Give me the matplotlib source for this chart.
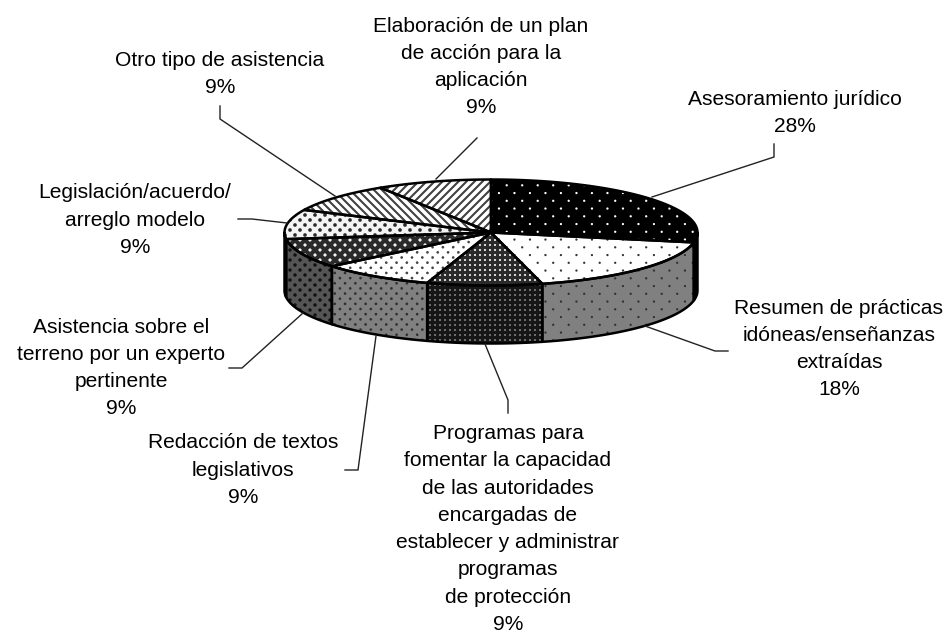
#!/usr/bin/env python
import matplotlib
matplotlib.use('Agg')
import matplotlib.pyplot as plt
from matplotlib.patches import Polygon
import numpy as np

plt.rcParams['font.family'] = ['Liberation Sans', 'DejaVu Sans']

labels = ['Asesoramiento jurídico',
          'Resumen de prácticas\nidóneas/enseñanzas\nextraídas',
          'Programas para\nfomentar la capacidad\nde las autoridades\nencargadas de\nestablecer y administrar\nprogramas\nde protección',
          'Redacción de textos\nlegislativos',
          'Asistencia sobre el\nterreno por un experto\npertinente',
          'Legislación/acuerdo/\narreglo modelo',
          'Otro tipo de asistencia',
          'Elaboración de un plan\nde acción para la\naplicación']
percent = [28, 18, 9, 9, 9, 9, 9, 9]

# where each label block is centred, in pixels
label_x = [795, 839, 508, 243, 121, 135, 220, 481]
label_y = [113, 349, 529, 470, 368, 220, 74, 67]

# leader lines, pie edge -> elbow -> end
leaders = [[(652, 197), (774, 157), (774, 144)],
           [(645, 326), (715, 351), (728, 351)],
           [(485, 344), (508, 400), (508, 413)],
           [(376, 336), (358, 470), (345, 470)],
           [(303, 313), (242, 368), (229, 368)],
           [(287, 223), (252, 219), (238, 219)],
           [(335, 196), (220, 119), (220, 106)],
           [(436, 179), (477, 138)]]

cx, cy = 491, 232.5
rx, ry = 206.5, 53
depth = 58

X, Y = np.meshgrid(np.arange(950) + 0.5, np.arange(634) + 0.5)


def rgb(c):
    return np.array(matplotlib.colors.to_rgb(c))


def dots(bg, fg, h, v, r, stagger=True, x0=0.0, y0=0.0):
    # print style dot screen, soft edged like the scanned original
    row = np.round((Y - y0) / v)
    shift = (row % 2) * h / 2 if stagger else 0
    dx = (X - x0 - shift + h / 2) % h - h / 2
    dy = Y - y0 - row * v
    a = np.clip(r + 0.6 - np.sqrt(dx ** 2 + dy ** 2), 0, 1)[..., None]
    return rgb(bg) * (1 - a) + rgb(fg) * a


def stripes(bg, fg, p, sign):
    w = 0.5 + 0.5 * np.cos(2 * np.pi * (X + sign * Y) / p)
    a = np.clip((w - 0.45) * 2.2, 0, 1)[..., None]
    return rgb(bg) * (1 - a) + rgb(fg) * a


def solid(c):
    return np.ones(X.shape + (3,)) * rgb(c)


def rim(a, b):
    # points on the top ellipse, angles clockwise from 12 o'clock
    t = np.radians(np.linspace(a, b, 80))
    return np.column_stack([cx + rx * np.sin(t), cy - ry * np.cos(t)])


def shape(ax, pts, tex):
    im = ax.imshow(tex, extent=[0, 950, 634, 0], interpolation='nearest', aspect='auto')
    im.set_clip_path(Polygon(pts, closed=True, transform=ax.transData))
    ax.add_patch(Polygon(pts, closed=True, fill=False, edgecolor='black', linewidth=1.8, joinstyle='round'))


top_tex = [dots('black', 'white', 15.5, 7.75, 1.0, x0=506.7, y0=185.3),
           dots('white', '#333333', 15.5, 7.75, 1.0, x0=506.7, y0=185.3),
           dots('#2a2a2a', '#e8e8e8', 5.0, 5.0, 1.0, stagger=False),
           dots('white', '#444444', 10.3, 5.15, 1.2),
           dots('#2a2a2a', '#f0f0f0', 10.0, 5.0, 1.5),
           dots('#f4f4f4', '#2a2a2a', 10.0, 5.0, 1.7),
           stripes('white', '#444444', 8.0, -1),
           stripes('white', '#444444', 8.0, 1)]
side_tex = [solid('black'),
            dots('#808080', '#303030', 15.5, 7.75, 1.0, x0=506.7, y0=185.3),
            dots('#161616', '#777777', 5.0, 5.0, 1.0, stagger=False),
            dots('#808080', '#303030', 10.3, 5.15, 1.2),
            dots('#555555', '#111111', 10.0, 5.0, 1.6),
            solid('black'), solid('black'), solid('black')]

fig = plt.figure(figsize=(9.5, 6.34), dpi=100)
ax = fig.add_axes([0, 0, 1, 1])

edges = np.concatenate([[0], np.cumsum(percent)]) * 3.6

for i in range(len(percent)):
    a = max(edges[i], 90)
    b = min(edges[i + 1], 270)
    if b > a:
        front = rim(a, b)
        shape(ax, np.vstack([front, front[::-1] + [0, depth]]), side_tex[i])

for i in range(len(percent)):
    shape(ax, np.vstack([[cx, cy], rim(edges[i], edges[i + 1])]), top_tex[i])

for line in leaders:
    ax.plot([p[0] for p in line], [p[1] for p in line], color='#222222', lw=1.0, solid_joinstyle='miter')

for i in range(len(labels)):
    ax.text(label_x[i], label_y[i], '{}\n{}%'.format(labels[i], percent[i]), ha='center', va='center',
            fontsize=15.1, linespacing=1.55, color='black')

ax.set_xlim(0, 950)
ax.set_ylim(634, 0)
ax.axis('off')

plt.savefig('out.png', dpi=100)
plt.close()
